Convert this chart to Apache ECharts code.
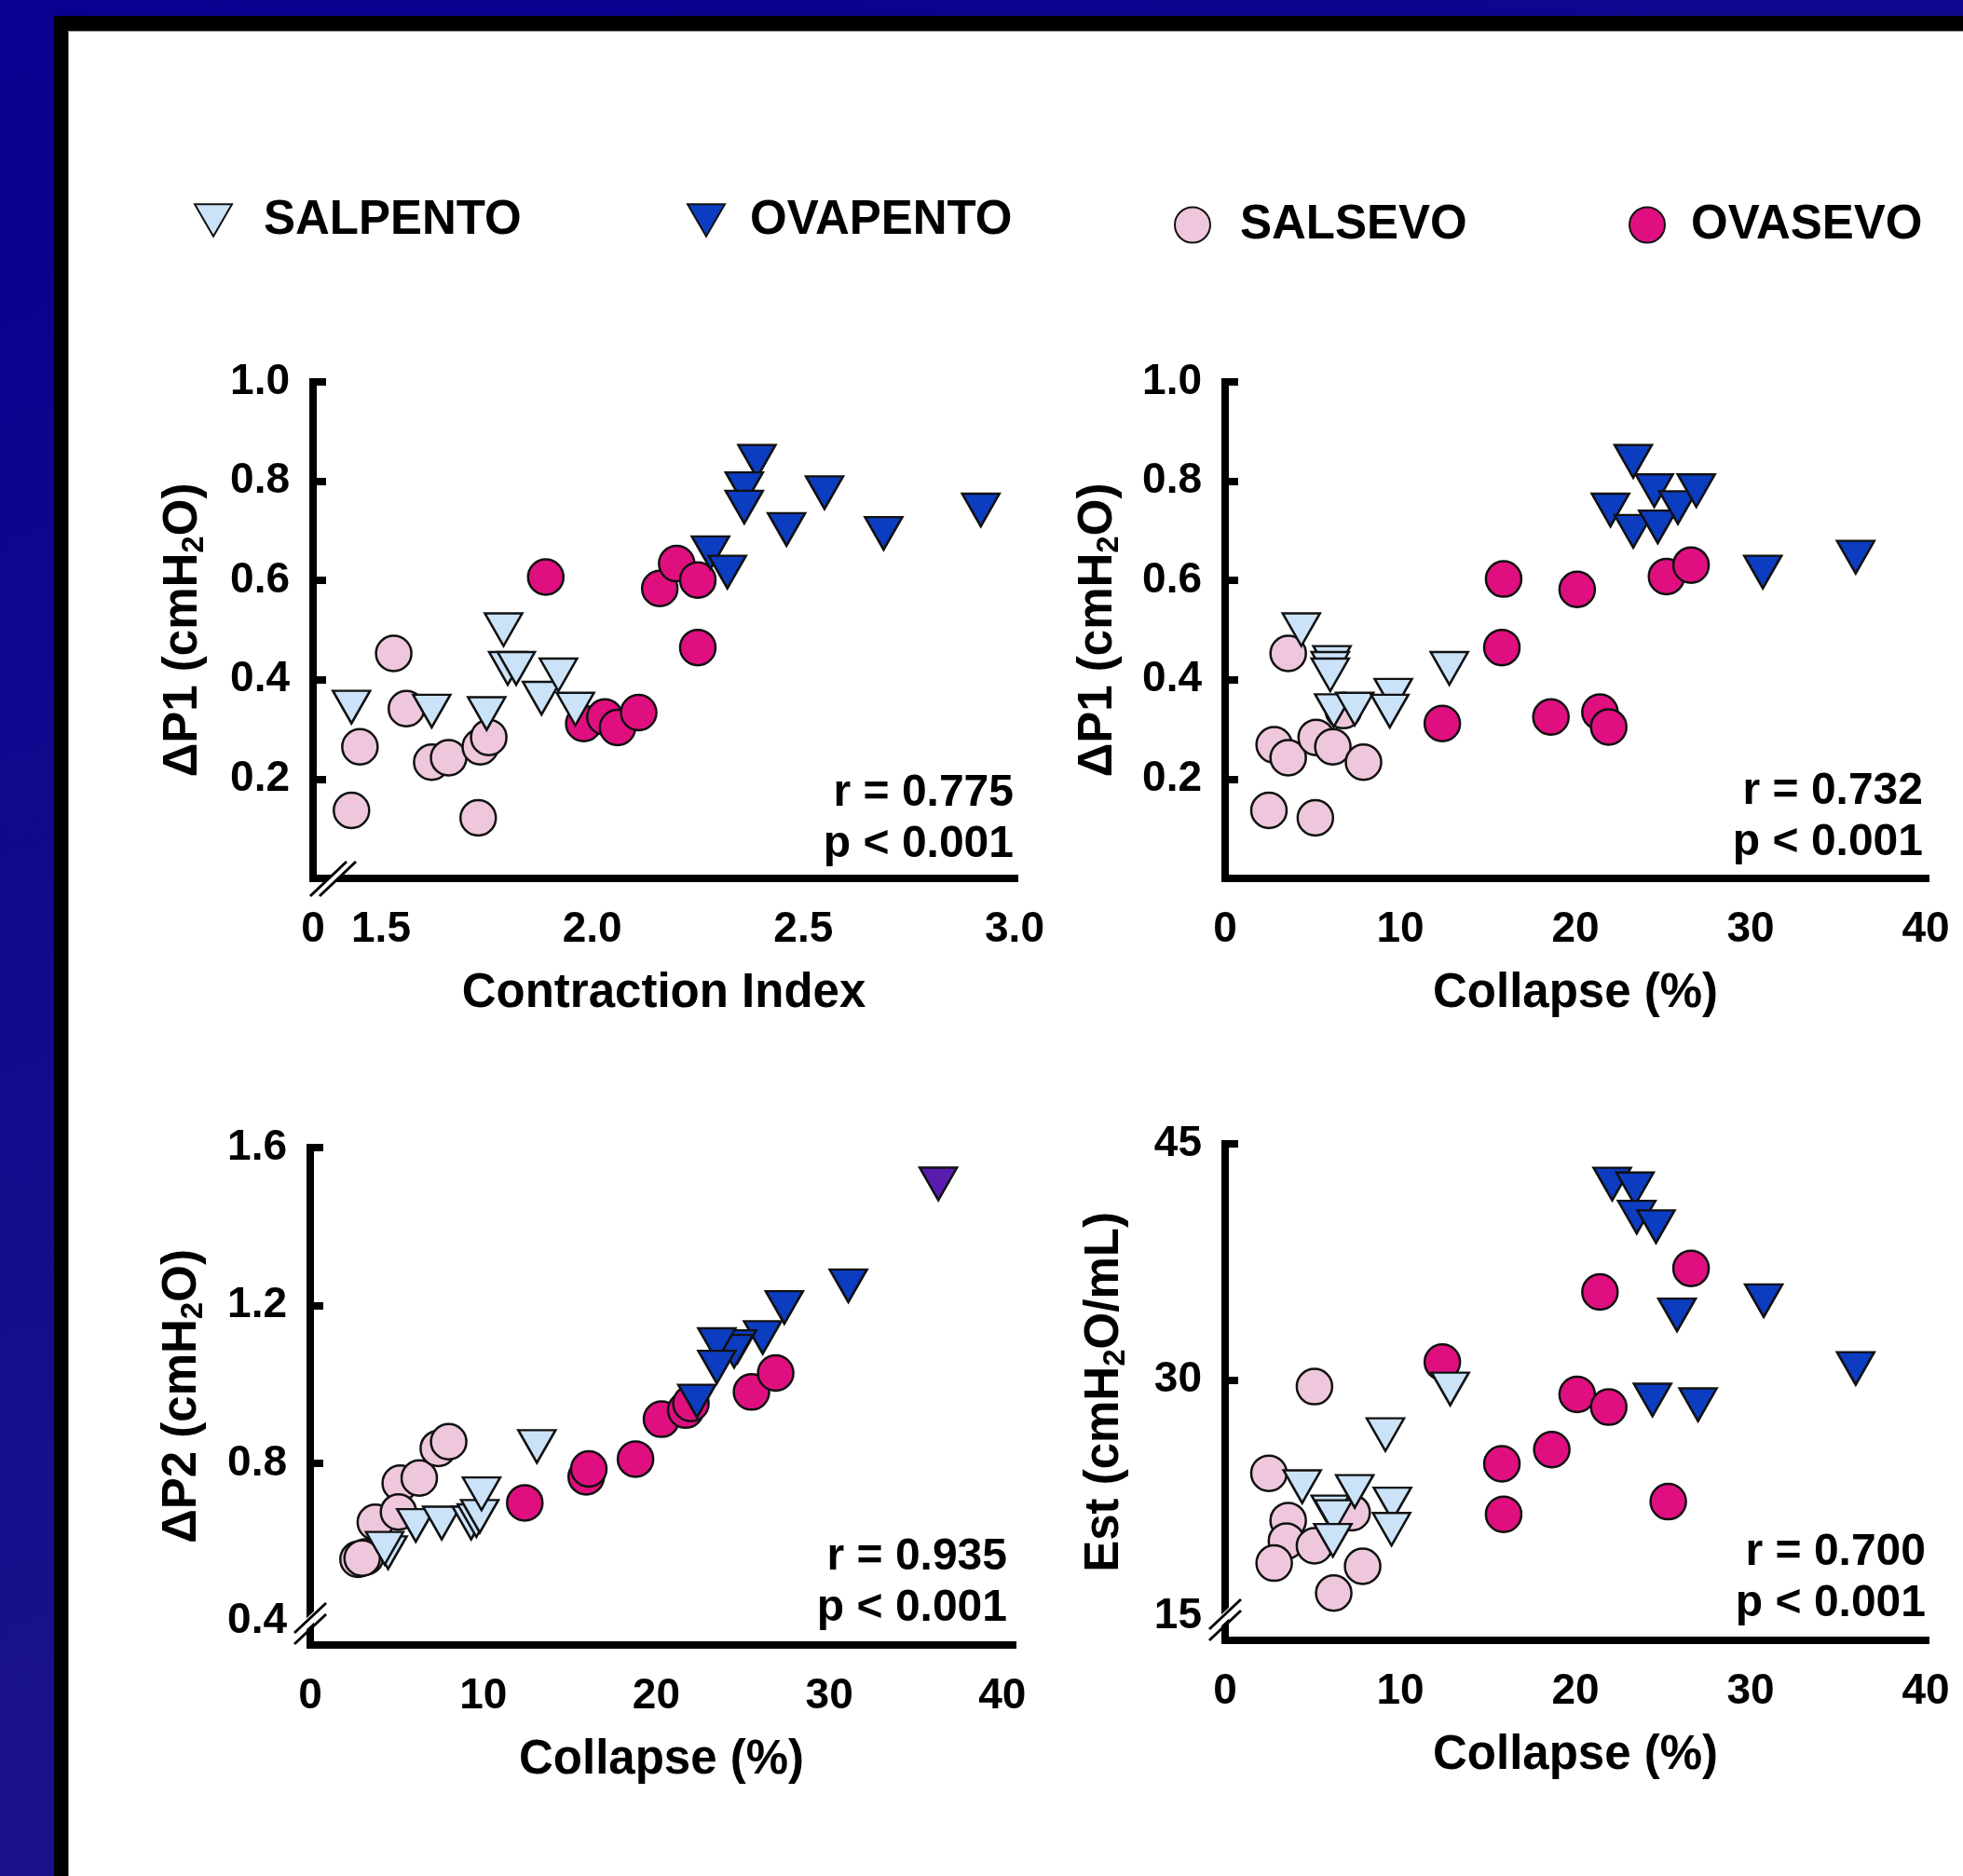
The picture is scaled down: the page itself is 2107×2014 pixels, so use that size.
<!DOCTYPE html>
<html>
<head>
<meta charset="utf-8">
<script src="https://cdn.jsdelivr.net/npm/echarts@6/dist/echarts.min.js"></script>
<style>
html,body{margin:0;padding:0;width:2107px;height:2014px;overflow:hidden;}
body{background:linear-gradient(160deg,#08008f 0%,#140c8c 45%,#22178a 100%);position:relative;}
#frame{position:absolute;left:58px;top:17px;right:0;bottom:0;background:#000;}
#paper{position:absolute;left:73px;top:33px;right:0;bottom:0;background:#fff;border-top:1px solid #888;border-left:1px solid #888;}
#chart{position:absolute;left:0;top:0;width:2107px;height:2014px;}
</style>
</head>
<body>
<div id="frame"></div>
<div id="paper"></div>
<div id="chart"></div>
<script>
// ---------------- DATA ----------------
const groups = ['SALPENTO', 'OVAPENTO', 'SALSEVO', 'OVASEVO'];

// Panel 1: Contraction Index vs dP1
const p1_salpento_x = [1.43, 1.62, 1.75, 1.79, 1.80, 1.82, 1.88, 1.92, 1.96];
const p1_salpento_y = [0.345, 0.337, 0.332, 0.501, 0.423, 0.423, 0.363, 0.410, 0.341];
const p1_ovapento_x = [2.39, 2.36, 2.36, 2.55, 2.46, 2.69, 2.92, 2.28, 2.32];
const p1_ovapento_y = [0.840, 0.785, 0.748, 0.777, 0.703, 0.695, 0.742, 0.656, 0.617];
const p1_salsevo_x = [1.53, 1.56, 1.45, 1.43, 1.62, 1.66, 1.735, 1.755, 1.73];
const p1_salsevo_y = [0.453, 0.342, 0.265, 0.137, 0.234, 0.243, 0.265, 0.284, 0.122];
const p1_ovasevo_x = [1.89, 2.16, 2.20, 2.25, 2.25, 1.98, 2.03, 2.06, 2.11];
const p1_ovasevo_y = [0.607, 0.584, 0.634, 0.601, 0.465, 0.312, 0.325, 0.304, 0.334];

// Panel 2: Collapse (%) vs dP1
const p2_salpento_x = [4.35, 6.1, 6.0, 6.0, 6.2, 7.4, 9.6, 9.4, 12.8];
const p2_salpento_y = [0.501, 0.435, 0.423, 0.410, 0.338, 0.341, 0.369, 0.337, 0.423];
const p2_ovapento_x = [23.3, 22.0, 24.5, 23.3, 24.7, 25.85, 26.9, 30.7, 36.0];
const p2_ovapento_y = [0.840, 0.742, 0.781, 0.699, 0.708, 0.747, 0.781, 0.617, 0.647];
const p2_salsevo_x = [3.6, 2.8, 3.6, 5.2, 6.15, 7.9, 2.5, 5.15, 6.75];
const p2_salsevo_y = [0.453, 0.269, 0.243, 0.284, 0.265, 0.234, 0.137, 0.122, 0.338];
const p2_ovasevo_x = [15.9, 15.8, 20.1, 25.2, 26.6, 12.4, 18.6, 21.4, 21.9];
const p2_ovasevo_y = [0.603, 0.465, 0.582, 0.608, 0.631, 0.312, 0.325, 0.335, 0.305];

// Panel 3: Collapse (%) vs dP2
const p3_salpento_x = [4.5, 4.3, 6.1, 7.6, 9.3, 9.6, 9.8, 9.9, 13.1];
const p3_salpento_y = [0.574, 0.585, 0.643, 0.649, 0.649, 0.655, 0.666, 0.723, 0.843];
const p3_ovapento_x = [36.3, 31.1, 27.4, 26.15, 24.7, 24.5, 23.5, 23.5, 22.35];
const p3_ovapento_y = [1.508, 1.250, 1.195, 1.119, 1.096, 1.084, 1.101, 1.044, 0.958];
const p3_salsevo_x = [2.76, 3.2, 3.0, 3.76, 5.2, 5.1, 6.3, 7.4, 8.0];
const p3_salsevo_y = [0.557, 0.563, 0.560, 0.651, 0.750, 0.677, 0.763, 0.838, 0.855];
const p3_ovasevo_x = [12.4, 15.95, 16.1, 18.8, 20.3, 21.7, 22.0, 25.5, 26.9];
const p3_ovasevo_y = [0.700, 0.766, 0.786, 0.811, 0.912, 0.935, 0.952, 0.981, 1.029];

// Panel 4: Collapse (%) vs Est
const p4_salpento_x = [4.4, 6.0, 6.2, 6.15, 7.4, 9.15, 9.55, 9.5, 12.85];
const p4_salpento_y = [23.25, 21.65, 21.35, 19.85, 22.95, 26.55, 22.15, 20.55, 29.45];
const p4_ovapento_x = [22.1, 23.4, 23.5, 24.6, 25.8, 30.75, 36.0, 24.4, 27.0];
const p4_ovapento_y = [42.45, 42.15, 40.35, 39.75, 34.15, 35.05, 30.75, 28.75, 28.45];
const p4_salsevo_x = [2.5, 3.6, 3.5, 2.8, 5.1, 5.1, 7.25, 7.85, 6.2];
const p4_salsevo_y = [24.1, 21.1, 19.8, 18.4, 19.5, 29.6, 21.6, 18.2, 16.5];
const p4_ovasevo_x = [26.6, 21.4, 12.4, 20.1, 21.9, 18.65, 15.8, 15.9, 25.3];
const p4_ovasevo_y = [37.1, 35.6, 31.15, 29.1, 28.3, 25.6, 24.7, 21.5, 22.3];

// tick labels
const p1_xLabels = [1.339, 1.5, 2.0, 2.5, 3.0];
const p1_yLabels = [0.2, 0.4, 0.6, 0.8, 1.0];
const p2_xLabels = [0, 10, 20, 30, 40];
const p3_yLabels = [0.4, 0.8, 1.2, 1.6];
const p3_yTicks = [0.8, 1.2, 1.6];
const p4_yLabels = [15, 30, 45];
const p4_yTicks = [30, 45];

const stats = [
  ['r = 0.775', 'p < 0.001'],
  ['r = 0.732', 'p < 0.001'],
  ['r = 0.935', 'p < 0.001'],
  ['r = 0.700', 'p < 0.001']
];

// ---------------- STYLE ----------------
const FONT = '"Liberation Sans", Arial, Helvetica, sans-serif';
const TRI = 'path://M0,0L20,0L10,17.32Z';
const styles = {
  SALPENTO: {symbol: TRI, size: [40, 35], color: '#cbe3f9'},
  OVAPENTO: {symbol: TRI, size: [40, 35], color: '#0c3cc0'},
  SALSEVO: {symbol: 'circle', size: 38, color: '#eec7dc'},
  OVASEVO: {symbol: 'circle', size: 38, color: '#e00f80'}
};

function zip(xs, ys) { return xs.map((x, i) => [x, ys[i]]); }

const panelData = [
  {SALPENTO: zip(p1_salpento_x, p1_salpento_y), OVAPENTO: zip(p1_ovapento_x, p1_ovapento_y), SALSEVO: zip(p1_salsevo_x, p1_salsevo_y), OVASEVO: zip(p1_ovasevo_x, p1_ovasevo_y)},
  {SALPENTO: zip(p2_salpento_x, p2_salpento_y), OVAPENTO: zip(p2_ovapento_x, p2_ovapento_y), SALSEVO: zip(p2_salsevo_x, p2_salsevo_y), OVASEVO: zip(p2_ovasevo_x, p2_ovasevo_y)},
  {SALPENTO: zip(p3_salpento_x, p3_salpento_y), OVAPENTO: zip(p3_ovapento_x, p3_ovapento_y), SALSEVO: zip(p3_salsevo_x, p3_salsevo_y), OVASEVO: zip(p3_ovasevo_x, p3_ovasevo_y)},
  {SALPENTO: zip(p4_salpento_x, p4_salpento_y), OVAPENTO: zip(p4_ovapento_x, p4_ovapento_y), SALSEVO: zip(p4_salsevo_x, p4_salsevo_y), OVASEVO: zip(p4_ovasevo_x, p4_ovasevo_y)}
];
// the highest point of panel 3 is drawn in purple in the reference
panelData[2].OVAPENTO[0] = {value: panelData[2].OVAPENTO[0], itemStyle: {color: '#5a1cb0'}};

const grids = [
  {left: 336, top: 410, width: 753, height: 533},
  {left: 1315, top: 410, width: 752, height: 533},
  {left: 333, top: 1232, width: 754, height: 534},
  {left: 1315, top: 1228, width: 752, height: 533}
];

const axisLineStyle = {show: true, lineStyle: {color: '#000', width: 8, cap: 'square'}};
const labelBase = {color: '#000', fontFamily: FONT, fontWeight: 'bold', fontSize: 46};
const nameRich = {
  t: {fontFamily: FONT, fontWeight: 'bold', fontSize: 51, color: '#000', lineHeight: 57},
  s: {fontFamily: FONT, fontWeight: 'bold', fontSize: 33, color: '#000', lineHeight: 22, verticalAlign: 'bottom'}
};

function xAxis(idx, min, max, labels, fmt, name) {
  return {
    type: 'value', gridIndex: idx, min: min, max: max,
    splitLine: {show: false}, axisLine: axisLineStyle,
    axisTick: {show: false},
    axisLabel: Object.assign({customValues: labels, margin: 32, formatter: fmt}, labelBase),
    name: name, nameLocation: 'middle', nameGap: 98,
    nameTextStyle: {fontFamily: FONT, fontWeight: 'bold', fontSize: 51, color: '#000'}
  };
}
function yAxis(idx, min, max, labels, ticks, fmt, name, gap) {
  return {
    type: 'value', gridIndex: idx, min: min, max: max,
    splitLine: {show: false}, axisLine: axisLineStyle,
    axisTick: {show: true, inside: true, length: 14, customValues: ticks, lineStyle: {color: '#000', width: 8}},
    axisLabel: Object.assign({customValues: labels, margin: 25, formatter: fmt}, labelBase),
    name: name, nameLocation: 'middle', nameGap: gap, nameRotate: 90,
    nameTextStyle: {rich: nameRich}
  };
}

const xAxes = [
  xAxis(0, 1.339, 3.0, p1_xLabels, v => (v < 1.4 ? '0' : v.toFixed(1)), 'Contraction Index'),
  xAxis(1, 0, 40, p2_xLabels, v => String(Math.round(v)), 'Collapse (%)'),
  xAxis(2, 0, 40.6, p2_xLabels, v => String(Math.round(v)), 'Collapse (%)'),
  xAxis(3, 0, 40, p2_xLabels, v => String(Math.round(v)), 'Collapse (%)')
];
const yAxes = [
  yAxis(0, 0, 1.0, p1_yLabels, p1_yLabels, v => v.toFixed(1), '{t|ΔP1 (cmH}{s|2}{t|O)}', 111),
  yAxis(1, 0, 1.0, p1_yLabels, p1_yLabels, v => v.toFixed(1), '{t|ΔP1 (cmH}{s|2}{t|O)}', 108),
  yAxis(2, 0.34, 1.6, p3_yLabels, p3_yTicks, v => v.toFixed(1), '{t|ΔP2 (cmH}{s|2}{t|O)}', 109),
  yAxis(3, 13.5, 45, p4_yLabels, p4_yTicks, v => String(Math.round(v)), '{t|Est (cmH}{s|2}{t|O/mL)}', 101)
];

const drawOrder = ['SALSEVO', 'OVASEVO', 'SALPENTO', 'OVAPENTO'];
const series = [];
panelData.forEach((pd, p) => {
  drawOrder.forEach(g => {
    const st = styles[g];
    series.push({
      type: 'scatter', name: g, xAxisIndex: p, yAxisIndex: p,
      symbol: st.symbol, symbolSize: st.size,
      itemStyle: {color: st.color, borderColor: '#111', borderWidth: 2.5, opacity: 1},
      emphasis: {disabled: true},
      data: pd[g]
    });
  });
});

const legendPos = [
  {name: 'SALPENTO', left: 208, top: 211, w: 40, h: 35, pad: 29},
  {name: 'OVAPENTO', left: 737, top: 211, w: 40, h: 35, pad: 22},
  {name: 'SALSEVO', left: 1260, top: 216, w: 38, h: 38, pad: 27},
  {name: 'OVASEVO', left: 1748, top: 216, w: 38, h: 38, pad: 23}
];
const legends = legendPos.map(l => ({
  data: [l.name], left: l.left, top: l.top, itemWidth: l.w, itemHeight: l.h,
  selectedMode: false, padding: 0,
  textStyle: {fontFamily: FONT, fontWeight: 'bold', fontSize: 51, color: '#000', padding: [0, 0, 0, l.pad]}
}));

// stats text positions (right edge, first-line centre)
const statPos = [[1088, 852], [2064, 850], [1081, 1672], [2067, 1667]];
const graphics = [];
statPos.forEach((sp, i) => {
  stats[i].forEach((t, j) => {
    graphics.push({type: 'text', x: sp[0], y: sp[1] + j * 55, z: 50,
      style: {text: t, align: 'right', verticalAlign: 'middle', fill: '#000',
        font: 'bold 48px ' + FONT}});
  });
});
// axis break marks "//"
function breakMark(p1a, p1b, p2a, p2b, gap) {
  graphics.push({type: 'polygon', z: 60, shape: {points: gap}, style: {fill: '#fff'}});
  graphics.push({type: 'line', z: 61, shape: {x1: p1a[0], y1: p1a[1], x2: p1b[0], y2: p1b[1]}, style: {stroke: '#000', lineWidth: 3}});
  graphics.push({type: 'line', z: 61, shape: {x1: p2a[0], y1: p2a[1], x2: p2b[0], y2: p2b[1]}, style: {stroke: '#000', lineWidth: 3}});
}
breakMark([333, 962], [372, 925], [343, 962], [382, 925], [[360, 936], [370, 936], [356, 950], [346, 950]]);
breakMark([316, 1753], [350, 1721], [316, 1765], [350, 1733], [[326, 1740], [340, 1727], [340, 1739], [326, 1752]]);
breakMark([1298, 1749], [1332, 1717], [1298, 1761], [1332, 1729], [[1308, 1736], [1322, 1723], [1322, 1735], [1308, 1748]]);

const chart = echarts.init(document.getElementById('chart'), null, {renderer: 'canvas', width: 2107, height: 2014});
chart.setOption({
  animation: false,
  backgroundColor: 'transparent',
  textStyle: {fontFamily: FONT},
  grid: grids,
  xAxis: xAxes,
  yAxis: yAxes,
  legend: legends,
  series: series,
  graphic: {elements: graphics}
});
</script>
</body>
</html>
